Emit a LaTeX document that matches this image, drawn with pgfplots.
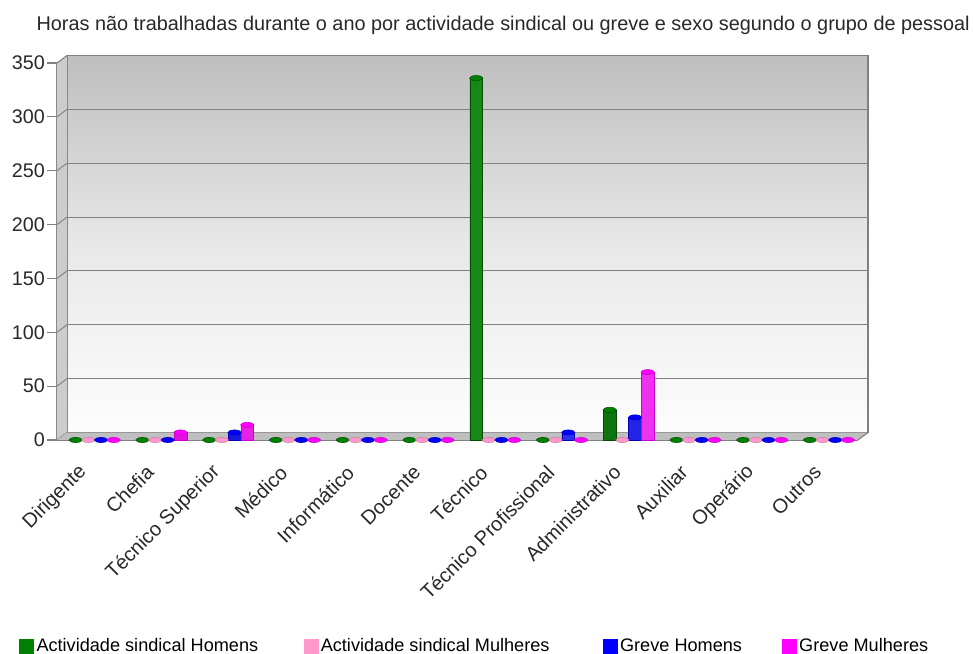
\documentclass[border=0pt]{standalone}
\usepackage{fontspec}
\setmainfont{Liberation Sans}
\usepackage{pgfplots}
\usepackage{pgfplotstable}
\pgfplotsset{compat=1.18}
\definecolor{cAH}{RGB}{0,128,0}
\definecolor{cAM}{RGB}{255,153,204}
\definecolor{cGH}{RGB}{0,0,255}
\definecolor{cGM}{RGB}{255,0,255}
\definecolor{axgray}{RGB}{128,128,128}
\definecolor{txt}{RGB}{40,40,40}
\pgfplotstableread{
x ash asm gh gm
0 0 0 0 0
1 0 0 0 7
2 0 0 7 14
3 0 0 0 0
4 0 0 0 0
5 0 0 0 0
6 336 0 0 0
7 0 0 7 0
8 28 0 21 63
9 0 0 0 0
10 0 0 0 0
11 0 0 0 0
}\data
\begin{document}
\begin{tikzpicture}
\begin{axis}[
  scale only axis,
  width=600.75pt, height=282.75pt,
  xmin=-0.5, xmax=11.5, ymin=0, ymax=350,
  clip=false,
  axis x line*=bottom, axis y line*=left,
  axis line style={axgray, line width=1.1pt},
  axis background/.style={xshift=7.5pt, yshift=5.6pt, draw=axgray, line width=0.8pt,
     top color={rgb,255:red,190;green,190;blue,190}, bottom color={rgb,255:red,253;green,253;blue,253}, middle color={rgb,255:red,232;green,232;blue,232}},
  ytick={0,50,...,350},
  ymajorgrids, grid style={axgray, line width=0.7pt, xshift=7.5pt, yshift=5.6pt},
  tick align=outside,
  major tick length=7.5pt,
  tick style={axgray, line width=0.8pt},
  xtick={0,...,11},
  xticklabels={Dirigente,Chefia,Técnico Superior,Médico,Informático,Docente,Técnico,Técnico Profissional,Administrativo,Auxiliar,Operário,Outros},
  x tick style={draw=none},
  extra x ticks={-0.5,0.5,...,11.5},
  extra x tick labels={},
  extra x tick style={x tick style={axgray, line width=0.8pt}, grid=none, major tick length=8.5pt},
  xticklabel style={xshift=-2.8pt, yshift=-11.8pt, rotate=45, anchor=east, font=\fontsize{15}{17}\selectfont, text=txt},
  yticklabel style={font=\fontsize{14.8}{17}\selectfont, text=txt, inner sep=1.5pt},
  /pgf/number format/assume math mode=true,
  title={Horas não trabalhadas durante o ano por actividade sindical ou greve e sexo segundo o grupo de pessoal},
  title style={at={(rel axis cs:0.557,1)}, anchor=base, yshift=18pt, font=\fontsize{14.9}{17}\selectfont, text=txt, inner sep=0pt},
  legend columns=4,
  legend style={at={(rel axis cs:-0.0474,-0.546)}, anchor=west, draw=none, fill=none, inner sep=0pt, font=\fontsize{13.6}{16}\selectfont,
    /tikz/column 2/.style={column sep=32pt},
    /tikz/column 4/.style={column sep=38pt},
    /tikz/column 6/.style={column sep=28pt}},
  legend cell align=left,
  legend image code/.code={\fill[#1] (0pt,-5.25pt) rectangle (10.5pt,5.25pt);},
]
\coordinate (bl) at (rel axis cs:0,0);
\coordinate (tr) at (rel axis cs:1,1);
% left wall and floor
\fill[gray!40] (rel axis cs:0,0) -- (rel axis cs:0,1) -- ([shift={(7.5pt,5.6pt)}]rel axis cs:0,1) -- ([shift={(7.5pt,5.6pt)}]rel axis cs:0,0) -- cycle;
\draw[axgray, line width=0.8pt] (rel axis cs:0,1) -- ([shift={(7.5pt,5.6pt)}]rel axis cs:0,1);
\pgfplotsinvokeforeach{0,50,...,300}{\draw[axgray, line width=0.7pt] (axis cs:-0.5,#1) -- ([shift={(7.5pt,5.6pt)}]axis cs:-0.5,#1);}
\fill[gray!50] (rel axis cs:0,0) -- (rel axis cs:1,0) -- ([shift={(7.5pt,5.6pt)}]rel axis cs:1,0) -- ([shift={(7.5pt,5.6pt)}]rel axis cs:0,0) -- cycle;
\draw[axgray, line width=0.8pt] (rel axis cs:1,0) -- ([shift={(7.5pt,5.6pt)}]rel axis cs:1,0);
% bars
\addplot[ybar, bar width=0.19, bar shift=-0.22, draw=cAH!60!black, left color=cAH!65!black, right color=cAH!65!black, middle color=cAH!90!white, forget plot] table[x=x,y=ash]{\data};
\addplot[ybar, bar width=0.19, bar shift=-0.03, draw=cAM!80!black, left color=cAM, right color=cAM, middle color=cAM!60!white, forget plot] table[x=x,y=asm]{\data};
\addplot[ybar, bar width=0.19, bar shift=0.16, draw=cGH!70!black, left color=cGH!80!black, right color=cGH!80!black, middle color=cGH!75!white, forget plot] table[x=x,y=gh]{\data};
\addplot[ybar, bar width=0.19, bar shift=0.35, draw=cGM!80!black, left color=cGM!85!black, right color=cGM!85!black, middle color=cGM!65!white, forget plot] table[x=x,y=gm]{\data};
% cylinder tops / zero discs
\addplot[only marks, mark=*, mark size=5pt, mark options={yscale=0.38, fill=cAH, draw=cAH!60!black}, forget plot] table[x expr=\thisrow{x}-0.22, y=ash]{\data};
\addplot[only marks, mark=*, mark size=5pt, mark options={yscale=0.38, fill=cAM, draw=cAM!80!black}, forget plot] table[x expr=\thisrow{x}-0.03, y=asm]{\data};
\addplot[only marks, mark=*, mark size=5pt, mark options={yscale=0.38, fill=cGH, draw=cGH!70!black}, forget plot] table[x expr=\thisrow{x}+0.16, y=gh]{\data};
\addplot[only marks, mark=*, mark size=5pt, mark options={yscale=0.38, fill=cGM, draw=cGM!80!black}, forget plot] table[x expr=\thisrow{x}+0.35, y=gm]{\data};
% legend
\addlegendimage{cAH}\addlegendentry{Actividade sindical Homens}
\addlegendimage{cAM}\addlegendentry{Actividade sindical Mulheres}
\addlegendimage{cGH}\addlegendentry{Greve Homens}
\addlegendimage{cGM}\addlegendentry{Greve Mulheres}
\end{axis}
\pgfresetboundingbox
\path ([shift={(-42.75pt,-160.5pt)}]bl) rectangle ([shift={(86.25pt,47.25pt)}]tr);
\end{tikzpicture}
\end{document}
